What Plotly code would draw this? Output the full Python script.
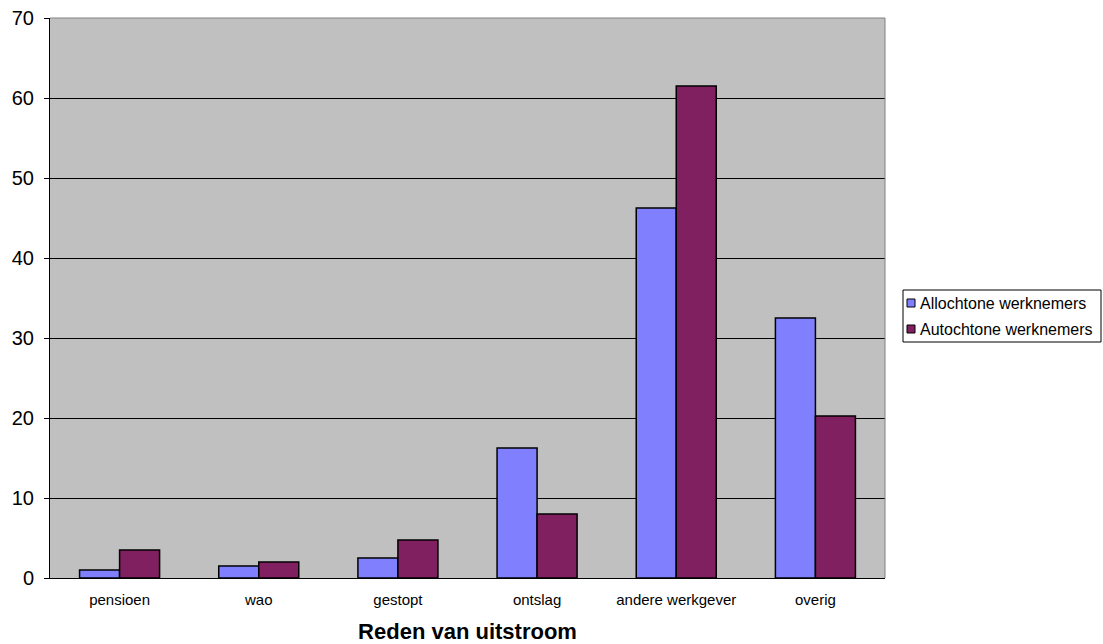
import plotly.graph_objects as go

categories = ["pensioen", "wao", "gestopt", "ontslag", "andere werkgever", "overig"]
allochtone = [1.0, 1.5, 2.5, 16.25, 46.25, 32.5]
autochtone = [3.5, 2.0, 4.75, 8.0, 61.5, 20.25]
y_ticks = [0, 10, 20, 30, 40, 50, 60, 70]

series = [
    ("Allochtone werknemers", allochtone, "#8080FF"),
    ("Autochtone werknemers", autochtone, "#802060"),
]

# plot area in pixels: x 50..885, y 18..578
L, R, T, B = 50, 885, 18, 578
W, H = 1103, 644


def px_x(p):
    return (p - L) / (R - L)


def px_y(p):
    return (B - p) / (B - T)


fig = go.Figure()
for name, vals, col in series:
    fig.add_trace(go.Bar(
        name=name, x=categories, y=vals,
        marker=dict(color=col, line=dict(color="#000000", width=1.5)),
        showlegend=False,
    ))

# boxed legend with small square keys
shapes = [
    dict(type="line", xref="paper", yref="paper", x0=0, x1=1, y0=1, y1=1,
         line=dict(color="#808080", width=1)),
    dict(type="line", xref="paper", yref="paper", x0=1, x1=1, y0=0, y1=1,
         line=dict(color="#808080", width=1)),
    dict(type="rect", xref="paper", yref="paper",
         x0=px_x(903), x1=px_x(1101), y0=px_y(342), y1=px_y(290),
         line=dict(color="#000000", width=1), fillcolor="#FFFFFF"),
]
annotations = []
row_y = [303, 329]
for (name, vals, col), ry in zip(series, row_y):
    shapes.append(dict(
        type="rect", xref="paper", yref="paper",
        x0=px_x(907), x1=px_x(915), y0=px_y(ry + 4), y1=px_y(ry - 4),
        line=dict(color="#000000", width=1), fillcolor=col,
    ))
    annotations.append(dict(
        text=name, xref="paper", yref="paper", x=px_x(918), y=px_y(ry),
        xanchor="left", yanchor="middle", showarrow=False,
        font=dict(size=16, color="#000000"),
    ))

fig.update_layout(
    width=W, height=H,
    margin=dict(l=L, r=W - R, t=T, b=H - B, autoexpand=False),
    paper_bgcolor="#FFFFFF",
    plot_bgcolor="#C0C0C0",
    barmode="group",
    bargap=0.425,
    bargroupgap=0,
    font=dict(family="Liberation Sans, Arial, sans-serif", color="#000000"),
    showlegend=False,
    shapes=shapes,
    annotations=annotations,
    xaxis=dict(
        title=dict(text="<b>Reden van uitstroom</b>", font=dict(size=22), standoff=17),
        tickfont=dict(size=15),
        ticklabelstandoff=8,
        automargin=False,
        showline=True, linecolor="#000000", linewidth=1,
        ticks="", mirror=False, showgrid=False,
    ),
    yaxis=dict(
        range=[0, 70], tickvals=y_ticks,
        tickfont=dict(size=20),
        ticklabelstandoff=6,
        automargin=False,
        showline=True, linecolor="#000000", linewidth=1,
        ticks="outside", ticklen=5, tickcolor="#000000",
        showgrid=True, gridcolor="#000000", gridwidth=1,
        zeroline=False,
    ),
)

fig.write_html("out.html")
